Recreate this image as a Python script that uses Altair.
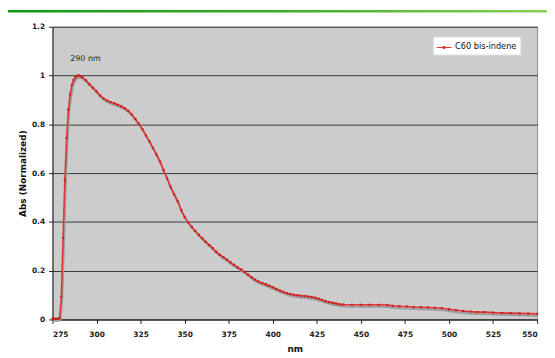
import altair as alt
import pandas as pd

# ---- data ----
nm = [275, 276, 277, 278, 279, 280, 281, 282, 283, 284, 285, 286, 287, 288, 289, 290,
      291, 292, 294, 296, 298, 300, 302, 304, 306, 308, 310, 312, 314, 316, 318, 320,
      322, 324, 326, 328, 330, 332, 334, 336, 338, 340, 342, 344, 346, 348, 350, 352,
      354, 356, 358, 360, 362, 364, 366, 368, 370, 372, 374, 376, 378, 380, 382, 384,
      386, 388, 390, 392, 394, 396, 398, 400, 402, 404, 406, 408, 410, 412, 414, 416,
      418, 420, 422, 424, 426, 428, 430, 432, 434, 436, 438, 440, 445, 450, 455, 460,
      465, 468, 472, 476, 480, 484, 488, 492, 496, 500, 504, 508, 512, 516, 520, 525,
      530, 535, 540, 545, 550]
absn = [0.003, 0.003, 0.003, 0.003, 0.005, 0.093, 0.335, 0.571, 0.744, 0.860, 0.922, 0.962,
        0.982, 0.993, 0.999, 1.000, 0.997, 0.992, 0.980, 0.964, 0.950, 0.935, 0.918, 0.906,
        0.897, 0.891, 0.886, 0.880, 0.874, 0.866, 0.855, 0.840, 0.822, 0.802, 0.780, 0.755,
        0.730, 0.703, 0.676, 0.647, 0.612, 0.578, 0.543, 0.513, 0.485, 0.448, 0.420, 0.398,
        0.380, 0.363, 0.347, 0.333, 0.318, 0.305, 0.292, 0.277, 0.265, 0.255, 0.245, 0.234,
        0.224, 0.214, 0.205, 0.195, 0.184, 0.173, 0.163, 0.155, 0.149, 0.144, 0.138, 0.132,
        0.125, 0.119, 0.113, 0.108, 0.104, 0.101, 0.099, 0.097, 0.096, 0.094, 0.092, 0.089,
        0.085, 0.080, 0.075, 0.071, 0.068, 0.065, 0.062, 0.061, 0.060, 0.060, 0.060, 0.060,
        0.059, 0.056, 0.054, 0.053, 0.051, 0.050, 0.049, 0.048, 0.046, 0.042, 0.038, 0.035,
        0.032, 0.030, 0.030, 0.028, 0.027, 0.026, 0.025, 0.024, 0.023]
series_name = "C60 bis-indene"
x_ticks = [275, 300, 325, 350, 375, 400, 425, 450, 475, 500, 525, 550]
y_ticks = [0, 0.2, 0.4, 0.6, 0.8, 1.0, 1.2]
peak_nm = [293.7]
peak_abs = [1.067]
peak_text = ["290 nm"]

df = pd.DataFrame({"nm": nm, "abs": absn, "series": [series_name] * len(nm)})
ann = pd.DataFrame({"nm": peak_nm, "abs": peak_abs, "label": peak_text})

FONT = "DejaVu Sans"
RED = "#e03535"

x = alt.X("nm:Q",
          scale=alt.Scale(domain=[275, 550], nice=False, zero=False),
          axis=alt.Axis(values=x_ticks, title="nm", grid=False, format="d",
                        tickSize=4, labelPadding=7, titlePadding=7,
                        labelFontSize=7.5, titleFontSize=9))
y = alt.Y("abs:Q",
          scale=alt.Scale(domain=[0, 1.2], nice=False),
          axis=alt.Axis(values=y_ticks, title="Abs (Normalized)", grid=True, format="~g",
                        tickSize=4, labelPadding=4, titlePadding=4,
                        labelFontSize=7.5, titleFontSize=9))

shadow = alt.Chart(df).mark_line(color="#9c9c9c", strokeWidth=2, xOffset=1, yOffset=2).encode(x=x, y=y)

line = alt.Chart(df).mark_line(strokeWidth=1.6).encode(
    x=x, y=y,
    color=alt.Color("series:N",
                    scale=alt.Scale(domain=[series_name], range=[RED]),
                    legend=alt.Legend(title=None, orient="none", legendX=385, legendY=10,
                                      fillColor="white", strokeColor="#e6e6e6", padding=3,
                                      symbolType="M-1,0H1M-0.13,-0.13H0.13V0.13H-0.13Z",
                                      symbolSize=225, symbolStrokeWidth=1,
                                      symbolStrokeColor=RED, symbolFillColor="#c62020",
                                      labelFont=FONT, labelFontSize=8.3, labelColor="#111",
                                      labelOffset=3,
                                      labelExpr="datum.label + '     '")))

pts = alt.Chart(df).mark_square(size=5, color="#c62020", filled=True, opacity=1).encode(x=x, y=y)

label = alt.Chart(ann).mark_text(font=FONT, fontSize=8, color="#222").encode(
    x=x, y=y, text="label:N")

band = alt.Chart(ann).mark_rect(
    fill=alt.Gradient(gradient="linear", x1=0, x2=1, y1=0, y2=0,
                      stops=[alt.GradientStop(offset=0, color="#0f980f"),
                             alt.GradientStop(offset=0.5, color="#3aad2a"),
                             alt.GradientStop(offset=1, color="#8cd252")])
).encode(x=alt.value(-45), x2=alt.value(502), y=alt.value(-17), y2=alt.value(-14.4))

chart = alt.layer(band, shadow, line, pts, label).properties(
    width=490, height=296,
    autosize=alt.AutoSizeParams(type="none"),
    padding={"left": 45, "top": 17, "right": 10, "bottom": 35},
    background="white",
).configure_view(
    fill="#cccccc", stroke="#8a8a8a", strokeWidth=1
).configure_axis(
    labelFont=FONT, titleFont=FONT, labelFontWeight="bold", titleFontWeight="bold",
    labelColor="#222", titleColor="#111", domainColor="#222", tickColor="#222",
    gridColor="#3a3a3a", gridOpacity=1, gridWidth=1, domainWidth=1
)

chart.save("out.html", embed_options={"renderer": "svg", "actions": False})
